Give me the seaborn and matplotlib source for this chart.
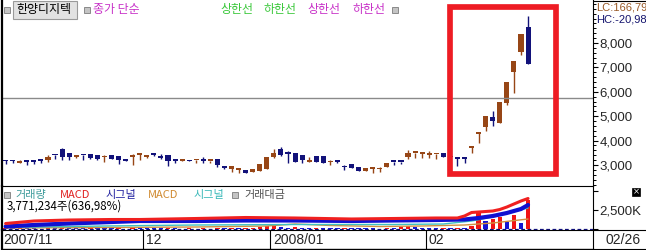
import numpy as np
import pandas as pd
import matplotlib
matplotlib.use("Agg")
import matplotlib.pyplot as plt
import seaborn as sns
from matplotlib.patches import Rectangle
from matplotlib.lines import Line2D
from matplotlib.ticker import FixedLocator, MultipleLocator

# ---------------- data ----------------
opens = [3205, 3205, 3068, 3205, 3160, 3185, 3205, 3405, 3670, 3506,
         3335, 3405, 3451, 3424, 3315, 3397, 3369, 3185, 3342, 3397,
         3342, 3479, 3369, 3424, 3205, 3172, 3205, 3190, 3233, 3165,
         3233, 2920, 2823, 2790, 2796, 2714, 2741, 2850, 3315, 3643,
         3479, 3506, 3424, 3124, 3369, 3369, 3110, 3205, 2920, 3041,
         2905, 2741, 2850, 2823, 2905, 3130, 3130, 3315, 3490, 3451,
         3424, 3440, 3479, 3320, 3287, 3287, 3700, 4280, 4557, 4967,
         4721, 5541, 6811, 7631, 8656]
highs = [3205, 3215, 3190, 3205, 3160, 3185, 3424, 3405, 3690, 3506,
         3400, 3405, 3451, 3424, 3424, 3397, 3369, 3185, 3451, 3479,
         3424, 3479, 3451, 3424, 3205, 3205, 3205, 3205, 3315, 3178,
         3233, 2960, 2960, 2878, 2796, 2850, 3041, 3342, 3643, 3752,
         3560, 3506, 3424, 3342, 3369, 3369, 3205, 3205, 3014, 3041,
         2905, 2878, 2864, 2905, 3068, 3130, 3130, 3615, 3506, 3506,
         3560, 3451, 3479, 3320, 3287, 3287, 3738, 4311, 5008, 5213,
         5582, 6402, 7262, 8369, 9107]
lows = [3041, 3100, 3068, 3014, 3041, 3068, 3124, 3260, 3205, 3205,
        3290, 3205, 3260, 3205, 3124, 3260, 3041, 3172, 2987, 3205,
        3287, 3369, 3230, 2960, 3068, 3151, 3151, 3068, 3096, 3068,
        2932, 2823, 2714, 2687, 2687, 2714, 2741, 2850, 3287, 3369,
        3068, 3124, 3068, 3124, 3124, 3096, 3014, 3100, 2796, 2878,
        2741, 2741, 2687, 2714, 2905, 3014, 3041, 3233, 3287, 3287,
        3287, 3260, 3342, 3310, 2959, 3082, 3492, 3902, 4393, 4598,
        4721, 5460, 5951, 7508, 7139]
closes = [3151, 3151, 3178, 3124, 3140, 3170, 3315, 3390, 3342, 3342,
          3350, 3390, 3287, 3260, 3342, 3260, 3205, 3172, 3397, 3479,
          3369, 3397, 3287, 3151, 3178, 3185, 3151, 3205, 3151, 3178,
          2987, 2895, 2960, 2805, 2687, 2850, 3041, 3342, 3506, 3424,
          3451, 3124, 3205, 3150, 3124, 3096, 3124, 3124, 2905, 2878,
          2741, 2878, 2864, 2837, 3068, 3118, 3118, 3479, 3506, 3506,
          3440, 3451, 3342, 3310, 3246, 3260, 3738, 4311, 5008, 4803,
          5582, 6402, 7262, 8369, 7139]
volumes_k = [120, 90, 110, 80, 70, 60, 150, 100, 260, 180,
             90, 80, 120, 100, 90, 80, 110, 60, 160, 130,
             90, 80, 70, 140, 90, 60, 70, 60, 80, 60,
             150, 110, 120, 80, 90, 130, 250, 350, 420, 300,
             180, 200, 140, 90, 120, 110, 80, 70, 130, 120,
             110, 90, 70, 60, 150, 90, 300, 350, 200, 150,
             130, 110, 120, 80, 140, 130, 400, 2280, 1090, 1280,
             1540, 960, 1840, 750, 3771]

# indicator lines of the lower panel (candle index, value in K)
red_idx = [1, 5, 10, 16, 20, 28, 35, 42, 50, 56, 62, 65, 66, 67, 68, 69, 70, 71, 72, 73, 74, 75]
red_val = [724, 1053, 1184, 1250, 1250, 1382, 1513, 1448, 1316, 1382, 1448, 1448, 1711, 2171,
           2237, 2303, 2369, 2566, 2895, 3290, 3685, 4014]
blue_idx = [1, 5, 10, 16, 20, 28, 35, 42, 50, 56, 62, 66, 68, 70, 72, 73, 74, 75]
blue_val = [329, 526, 724, 921, 1053, 1053, 1119, 1119, 1053, 1119, 1184, 1250, 1448, 1711,
            2106, 2369, 2632, 3158]
cyan_idx = [1, 15, 28, 42, 56, 63, 67, 70, 75]
cyan_val = [197, 395, 526, 592, 592, 658, 1053, 1579, 2764]
orange_idx = [1, 15, 28, 38, 42, 47, 54, 60, 66, 70, 75]
orange_val = [132, 197, 263, 395, 658, 461, 329, 395, 526, 790, 1316]

ref_price = 5746
month_labels = ["2007/11", "12", "2008/01", "02"]
month_start = [1, 21, 39, 61]
last_date = "02/26"
price_ticks = [3000, 4000, 5000, 6000, 7000, 8000]
vol_ticks = [2500]

# ---------------- style ----------------
sns.set_style("white")
plt.rcParams['font.family'] = ['DejaVu Sans']
NUM = ['Liberation Sans Narrow', 'Liberation Sans', 'DejaVu Sans']
KR = ['Noto Sans CJK KR', 'DejaVu Sans']
UP = "#974616"
DN = "#12127A"

W, H = 646, 250
fig = plt.figure(figsize=(W / 100, H / 100), dpi=100)
fig.patch.set_facecolor("white")


def fr(x0, y0, x1, y1):
    return [x0 / W, 1 - y1 / H, (x1 - x0) / W, (y1 - y0) / H]


ax = fig.add_axes(fr(2, 0, 593, 186))
axv = fig.add_axes(fr(2, 186, 593, 230))
axd = fig.add_axes(fr(2, 230, 593, 249))
XL = (0.49, 84.2)

# ---------------- candles ----------------
k = np.arange(1, len(opens) + 1)
o, hh, ll, c = map(np.array, (opens, highs, lows, closes))
col = np.where(c >= o, UP, DN)
ax.vlines(k, ll, hh, colors=col, lw=1)
body = np.maximum(np.abs(c - o), 70)
ax.bar(k, body, bottom=np.minimum(o, c), width=0.72, color=col, linewidth=0)
ax.axhline(ref_price, color="#8a8a8a", lw=1)
ax.add_patch(Rectangle((64.0, 2611), 14.9, 6844, fill=False, ec="#EE1C24", lw=4.1,
                       clip_on=False, zorder=5))
ax.set_xlim(*XL)
ax.set_ylim(2139, 9762)

ax.yaxis.tick_right()
ax.yaxis.set_major_locator(FixedLocator(price_ticks))
ax.set_yticklabels([f"{t:,}" for t in price_ticks], family=NUM, fontsize=9.5)
ax.yaxis.set_minor_locator(MultipleLocator(200))
ax.tick_params(axis="y", which="major", direction="out", length=3.5, width=0.8,
               color="black", pad=1, right=True, left=False)
ax.tick_params(axis="y", which="minor", direction="out", length=1.8, width=0.7,
               color="black", right=True, left=False)
ax.set_xticks([])

# ---------------- volume panel ----------------
vol = np.array(volumes_k)
prev = np.concatenate([[0], vol[:-1]])
vcol = np.where(vol > prev, "#F01414", "#1414D2")
axv.bar(k, vol, width=0.62, color=vcol, linewidth=0, zorder=2)
axv.axhline(35, color="#101080", lw=0.9, ls=(0, (3, 2)), zorder=1)
sns.lineplot(x=orange_idx, y=orange_val, ax=axv, color="#D09040", lw=1, zorder=3)
sns.lineplot(x=cyan_idx, y=cyan_val, ax=axv, color="#3FC0C0", lw=1, zorder=3)
sns.lineplot(x=blue_idx, y=blue_val, ax=axv, color="#1010D0", lw=3.0, zorder=4)
sns.lineplot(x=red_idx, y=red_val, ax=axv, color="#F02020", lw=2.2, zorder=5)
axv.set_xlim(*XL)
axv.set_ylim(-132, 5659)
axv.set_xlabel("")
axv.set_ylabel("")
axv.set_xticks([])
axv.yaxis.tick_right()
axv.yaxis.set_major_locator(FixedLocator(vol_ticks))
axv.set_yticklabels([f"{t:,}K" for t in vol_ticks], family=NUM, fontsize=9.5)
axv.yaxis.set_minor_locator(FixedLocator([0, 5000]))
axv.tick_params(axis="y", which="major", direction="out", length=3.5, width=0.8,
                color="black", pad=1, right=True, left=False)
axv.tick_params(axis="y", which="minor", direction="out", length=3.5, width=0.8,
                color="black", right=True, left=False)

# ---------------- date row ----------------
axd.set_xlim(*XL)
axd.set_ylim(0, 1)
axd.set_xticks([])
axd.set_yticks([])
for i, (lab, st) in enumerate(zip(month_labels, month_start)):
    if i == 0:
        xt = XL[0] + 0.15
    else:
        axd.axvline(st - 0.5, color="black", lw=0.8)
        xt = st - 0.5 + 0.35
    axd.text(xt, 0.45, lab, family=NUM, fontsize=10, va="center", ha="left")
fig.text(605 / W, 1 - 240 / H, last_date, family=NUM, fontsize=10, va="center", ha="left")

# spines
for a in (ax, axv, axd):
    for s in a.spines.values():
        s.set_color("black")
        s.set_linewidth(0.8)
    a.spines["left"].set_linewidth(1.6)
    a.spines["top"].set_visible(False)
    a.patch.set_alpha(0)
axd.spines["bottom"].set_linewidth(1.0)

for y in (0.5, 230, 249):
    fig.add_artist(Line2D([593 / W, 1], [1 - y / H, 1 - y / H], color="black", lw=0.8))

# ---------------- header texts ----------------
def sq(x, y):
    fig.add_artist(Rectangle((x / W, 1 - (y + 6) / H), 6 / W, 6 / H, transform=fig.transFigure,
                             fc="#C4C4C4", ec="#8A8A8A", lw=0.7))


sq(4, 7)
fig.add_artist(Rectangle((13 / W, 1 - 19 / H), 64 / W, 18 / H, transform=fig.transFigure,
                         fc="#E2E2E2", ec="#9A9A9A", lw=0.8))
fig.text(16 / W, 1 - 10 / H, "한양디지텍", family=KR, fontsize=8.6, color="black", va="center")
sq(84, 7)
fig.text(93 / W, 1 - 10 / H, "종가 단순", family=KR, fontsize=8.6, color="#C832C8", va="center")
fig.text(220 / W, 1 - 10 / H, "상한선", family=KR, fontsize=8.6, color="#3CC83C", va="center")
fig.text(263 / W, 1 - 10 / H, "하한선", family=KR, fontsize=8.6, color="#3CC83C", va="center")
fig.text(307 / W, 1 - 10 / H, "상한선", family=KR, fontsize=8.6, color="#C832C8", va="center")
fig.text(352 / W, 1 - 10 / H, "하한선", family=KR, fontsize=8.6, color="#C832C8", va="center")
sq(392, 7)
fig.text(596 / W, 1 - 7 / H, "LC:166,79", family=NUM, fontsize=8, color="#9A5A28", va="center")
fig.text(596 / W, 1 - 19 / H, "HC:-20,98", family=NUM, fontsize=8, color="#14146E", va="center")

# lower panel legend
sq(4, 192)
legend_items = [(15, "거래량", "#3C9A9A"), (60, "MACD", "#E02020"), (105, "시그널", "#2020A0"),
                (148, "MACD", "#D08A30"), (193, "시그널", "#38B8B8")]
for x, t, cc in legend_items:
    fig.text(x / W, 1 - 195 / H, t, family=KR, fontsize=8, color=cc, va="center")
sq(232, 192)
fig.text(244 / W, 1 - 195 / H, "거래대금", family=KR, fontsize=8, color="#505050", va="center")
fig.text(7 / W, 1 - 206 / H, "3,771,234주(636,98%)", family=KR, fontsize=8.3, color="black",
         va="center")
fig.add_artist(Rectangle((632 / W, 1 - 196 / H), 8 / W, 8 / H, transform=fig.transFigure,
                         fc="black", ec="black", lw=0.5))
fig.text(636 / W, 1 - 192 / H, "×", color="white", fontsize=6, ha="center", va="center")

fig.savefig("out.png", dpi=100)
